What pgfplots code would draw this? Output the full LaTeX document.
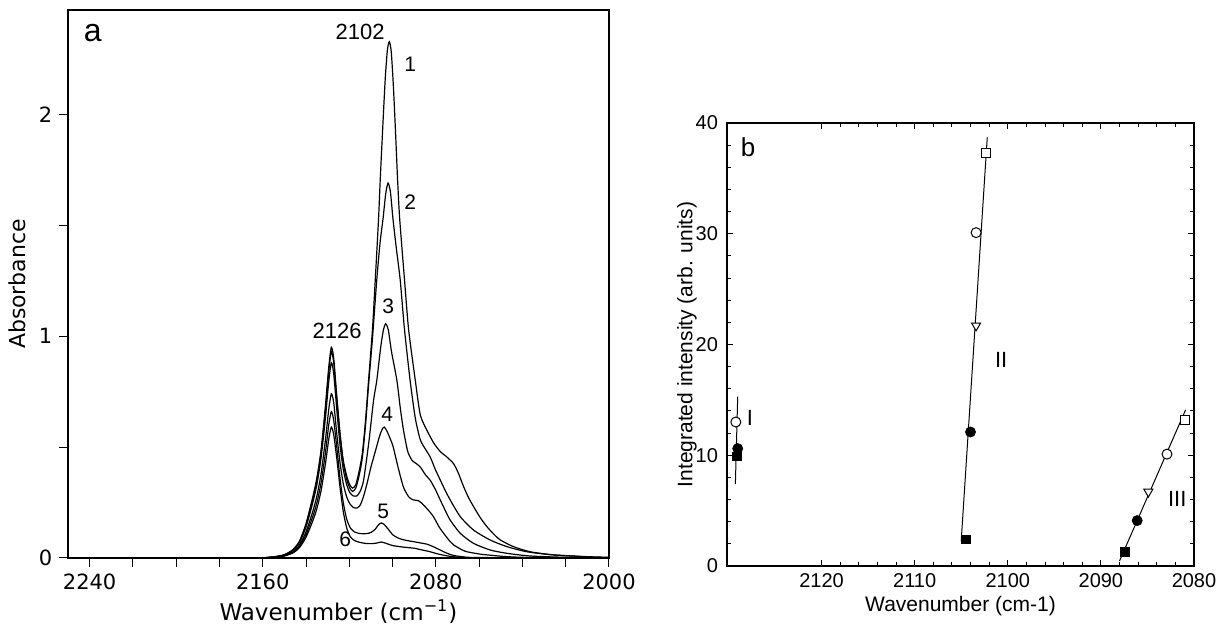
\documentclass[border=0pt]{standalone}
\usepackage{fontspec}
\setmainfont{Liberation Sans}
\newfontfamily\dejavu{DejaVu Sans}
\usepackage{pgfplots}
\pgfplotsset{compat=1.18}
\tikzset{spec/.style={black, line width=0.6pt, smooth, tension=0.4, mark=none}}

\begin{document}
\begin{tikzpicture}
\path[use as bounding box] (0,0) rectangle (611pt,312pt);

% (a) spectra
\begin{axis}[
  at={(34pt,33pt)}, anchor=south west,
  scale only axis, width=270.5pt, height=274pt,
  xmin=2000, xmax=2250, x dir=reverse,
  ymin=0, ymax=2.47,
  axis line style={line width=0.8pt},
  xtick={2000,2080,2160,2240}, minor x tick num=3,
  ytick={0,1,2}, minor y tick num=1,
  tick align=outside, xtick pos=bottom, ytick pos=left,
  major tick length=4.3pt, minor tick length=4.3pt,
  tick style={line width=0.5pt, black},
  /pgf/number format/assume math mode=true,
  /pgf/number format/1000 sep={},
  ticklabel style={font=\dejavu\fontsize{10.5}{12}\selectfont},
  xlabel={Wavenumber (cm\textsuperscript{−1})},
  ylabel={Absorbance},
  xlabel style={font=\dejavu\fontsize{11.5}{13}\selectfont, at={(axis description cs:0.5,-0.0985)}, anchor=center},
  ylabel style={font=\dejavu\fontsize{11}{13}\selectfont, at={(axis description cs:-0.094,0.5)}, anchor=center},
]
% 1
\addplot[spec] coordinates {(2250,0) (2200,0) (2170,0) (2160,0.001) (2155,0.005) (2150,0.014) (2146,0.037) (2143,0.074) (2140,0.15) (2137,0.26) (2135,0.35) (2133,0.48) (2131,0.67) (2129.5,0.84) (2128.3,0.93) (2127.2,0.88) (2125.8,0.72) (2124.3,0.56) (2122.8,0.44) (2121.2,0.37) (2119.8,0.33) (2118.5,0.315) (2117,0.33) (2115.5,0.39) (2114,0.47) (2112.5,0.62) (2111.1,0.80) (2109.3,1.03) (2108,1.255) (2106.5,1.526) (2105.7,1.707) (2104.5,1.95) (2103.4,2.16) (2102.4,2.29) (2101.5,2.327) (2100.6,2.28) (2099.6,2.12) (2098.6,1.91) (2097.7,1.707) (2096.7,1.526) (2094.5,1.255) (2092.6,1.03) (2089.5,0.80) (2087.2,0.645) (2084.1,0.575) (2081.1,0.52) (2078,0.48) (2074.9,0.455) (2071.8,0.425) (2069.5,0.38) (2067.2,0.322) (2064.9,0.272) (2062.6,0.232) (2059.5,0.182) (2056.4,0.141) (2053,0.105) (2050.2,0.081) (2044.1,0.051) (2036.4,0.028) (2025.7,0.014) (2010,0.006) (2000,0.003)};
% 2
\addplot[spec] coordinates {(2250,0) (2200,0) (2170,0) (2160,0.001) (2155,0.005) (2150,0.015) (2146,0.038) (2143,0.076) (2140,0.155) (2137,0.27) (2135,0.36) (2133,0.49) (2131,0.69) (2129.5,0.86) (2128.3,0.95) (2127.2,0.90) (2125.8,0.73) (2124.3,0.56) (2122.8,0.43) (2121.2,0.355) (2119.8,0.315) (2118.5,0.30) (2117,0.315) (2115.5,0.37) (2114,0.45) (2112.5,0.60) (2111.1,0.78) (2109.3,0.99) (2107.3,1.255) (2105.8,1.42) (2104.4,1.53) (2103.2,1.64) (2102.1,1.69) (2101,1.65) (2099.8,1.526) (2098.2,1.39) (2096.5,1.255) (2094.5,1.03) (2091.9,0.80) (2089.5,0.63) (2087.2,0.533) (2084.8,0.49) (2082.6,0.455) (2080.3,0.40) (2078,0.352) (2075.7,0.305) (2073.4,0.262) (2068.7,0.186) (2062.6,0.126) (2054.9,0.081) (2047.1,0.051) (2037.9,0.028) (2025.7,0.014) (2010,0.005) (2000,0.002)};
% 3
\addplot[spec] coordinates {(2250,0) (2200,0) (2170,0) (2160,0.001) (2155,0.004) (2150,0.013) (2146,0.035) (2143,0.07) (2140,0.14) (2137,0.245) (2135,0.33) (2133,0.455) (2131,0.635) (2129.5,0.795) (2128.3,0.88) (2127.2,0.83) (2125.8,0.67) (2124.3,0.51) (2122.8,0.40) (2121.2,0.33) (2119.8,0.295) (2118.2,0.28) (2116.5,0.28) (2115,0.30) (2113.4,0.35) (2111,0.52) (2108.8,0.71) (2107.3,0.80) (2105.5,0.95) (2104.2,1.03) (2103.2,1.056) (2102,1.03) (2100.5,0.93) (2098,0.80) (2096.5,0.68) (2095,0.578) (2093,0.48) (2091,0.44) (2089,0.425) (2087.2,0.41) (2084.8,0.375) (2082.6,0.35) (2080.3,0.31) (2078,0.262) (2075.7,0.215) (2073.4,0.171) (2068.7,0.111) (2062.6,0.066) (2054.9,0.036) (2047.1,0.021) (2036.4,0.009) (2020,0.003) (2000,0)};
% 4
\addplot[spec] coordinates {(2250,0) (2200,0) (2170,0) (2160,0.001) (2155,0.004) (2150,0.011) (2146,0.029) (2143,0.059) (2140,0.118) (2137,0.206) (2135,0.278) (2133,0.383) (2131,0.535) (2129.5,0.67) (2128.3,0.74) (2127.2,0.70) (2125.8,0.56) (2124.3,0.43) (2122.8,0.335) (2121.2,0.275) (2119.8,0.245) (2118.2,0.228) (2116.5,0.225) (2115,0.238) (2113.5,0.275) (2111.7,0.34) (2110,0.41) (2108,0.48) (2106,0.55) (2104.8,0.58) (2103.8,0.59) (2102.5,0.57) (2101,0.535) (2099.7,0.50) (2097.5,0.41) (2095,0.32) (2092.5,0.275) (2090.5,0.262) (2088,0.258) (2085.8,0.24) (2083,0.21) (2081.1,0.186) (2078.5,0.14) (2076.4,0.111) (2073.5,0.075) (2071.8,0.059) (2068,0.037) (2065.6,0.028) (2060,0.018) (2056.4,0.014) (2047.1,0.006) (2035,0.002) (2000,0)};
% 5
\addplot[spec] coordinates {(2250,0) (2200,0) (2170,0) (2160,0.001) (2155,0.003) (2150,0.010) (2146,0.026) (2143,0.053) (2140,0.105) (2137,0.184) (2135,0.248) (2133,0.342) (2131,0.477) (2129.5,0.60) (2128.3,0.66) (2127.2,0.62) (2125.8,0.50) (2124.3,0.36) (2122.8,0.25) (2121.2,0.175) (2119.5,0.135) (2117.5,0.117) (2115,0.11) (2112,0.11) (2110,0.115) (2108,0.13) (2106.5,0.15) (2105.2,0.158) (2104,0.152) (2102,0.13) (2100,0.105) (2097,0.088) (2094,0.08) (2090,0.073) (2087.2,0.068) (2084,0.062) (2081,0.05) (2078,0.036) (2075,0.022) (2072,0.012) (2068,0.006) (2060,0.002) (2000,0)};
% 6
\addplot[spec] coordinates {(2250,0) (2200,0) (2170,0) (2160,0.001) (2155,0.003) (2150,0.009) (2146,0.023) (2143,0.047) (2140,0.094) (2137,0.164) (2135,0.222) (2133,0.306) (2131,0.427) (2129.5,0.535) (2128.3,0.59) (2127.2,0.555) (2125.8,0.45) (2124.3,0.32) (2122.8,0.21) (2121.2,0.135) (2119.5,0.095) (2117.5,0.078) (2115,0.07) (2112,0.065) (2109,0.065) (2107,0.068) (2105.2,0.072) (2103,0.066) (2100,0.056) (2095,0.049) (2090,0.044) (2087.2,0.038) (2083,0.029) (2079,0.018) (2075,0.01) (2070,0.004) (2060,0.001) (2000,0)};

\node[font=\fontsize{16}{18}\selectfont] at (axis description cs:0.046,0.958) {a};
\node[font=\fontsize{11}{13}\selectfont] at (axis cs:2115,2.37) {2102};
\node[font=\fontsize{11}{13}\selectfont] at (axis cs:2125.6,1.025) {2126};
\node[font=\fontsize{10.5}{12}\selectfont] at (axis cs:2091.8,2.226) {1};
\node[font=\fontsize{10.5}{12}\selectfont] at (axis cs:2091.8,1.603) {2};
\node[font=\fontsize{10.5}{12}\selectfont] at (axis cs:2102,1.133) {3};
\node[font=\fontsize{10.5}{12}\selectfont] at (axis cs:2102.5,0.646) {4};
\node[font=\fontsize{10.5}{12}\selectfont] at (axis cs:2104.3,0.208) {5};
\node[font=\fontsize{10.5}{12}\selectfont] at (axis cs:2121.9,0.086) {6};
\end{axis}

% (b) integrated intensity vs position
\begin{axis}[
  at={(363.5pt,29pt)}, anchor=south west,
  scale only axis, width=233.5pt, height=221.5pt,
  xmin=2080, xmax=2130.15, x dir=reverse,
  ymin=0, ymax=40,
  axis line style={line width=0.8pt},
  xtick={2080,2090,2100,2110,2120}, minor x tick num=4,
  ytick={0,10,20,30,40}, minor y tick num=4,
  tick align=inside, major tick length=3pt, minor tick length=2.2pt,
  tick style={line width=0.5pt, black},
  /pgf/number format/assume math mode=true,
  /pgf/number format/1000 sep={},
  ticklabel style={font=\fontsize{10}{12}\selectfont},
  yticklabel style={xshift=-1pt},
  xlabel={Wavenumber (cm-1)},
  ylabel={Integrated intensity (arb. units)},
  xlabel style={font=\fontsize{10.5}{12}\selectfont, at={(axis description cs:0.5,-0.09)}, anchor=center},
  ylabel style={font=\fontsize{10.5}{12}\selectfont, at={(axis description cs:-0.0857,0.5)}, anchor=center},
]
\addplot[black, line width=0.5pt, mark=none] coordinates {(2129.0,15.3) (2129.25,7.4)};
\addplot[black, line width=0.5pt, mark=none] coordinates {(2102.2,38.7) (2105.0,2.25)};
\addplot[black, line width=0.5pt, mark=none] coordinates {(2088.0,0.45) (2080.9,14.1)};
% filled squares
\addplot[only marks, mark=square*, mark size=2.2pt, black] coordinates {(2129.1,9.9) (2104.5,2.4) (2087.4,1.3)};
% filled circles
\addplot[only marks, mark=*, mark size=2.5pt, black] coordinates {(2129.0,10.6) (2104.0,12.1) (2086.1,4.1)};
% open triangles (down)
\addplot[only marks, mark=triangle*, mark size=2.6pt, black, mark options={rotate=180, fill=white, line width=0.5pt}] coordinates {(2103.4,21.7) (2084.9,6.7)};
% open circles
\addplot[only marks, mark=*, mark size=2.5pt, black, mark options={fill=white, line width=0.5pt}] coordinates {(2129.2,13.0) (2103.4,30.1) (2082.9,10.1)};
% open squares
\addplot[only marks, mark=square*, mark size=2.2pt, black, mark options={fill=white, line width=0.5pt}] coordinates {(2102.3,37.3) (2081.0,13.2)};

\node[font=\fontsize{13}{15}\selectfont] at (axis description cs:0.045,0.946) {b};
\node[font=\fontsize{11}{13}\selectfont] at (axis cs:2127.7,13.4) {I};
\node[font=\fontsize{11}{13}\selectfont] at (axis cs:2100.7,18.6) {II};
\node[font=\fontsize{11}{13}\selectfont] at (axis cs:2081.8,6.1) {III};
\end{axis}
\end{tikzpicture}
\end{document}
